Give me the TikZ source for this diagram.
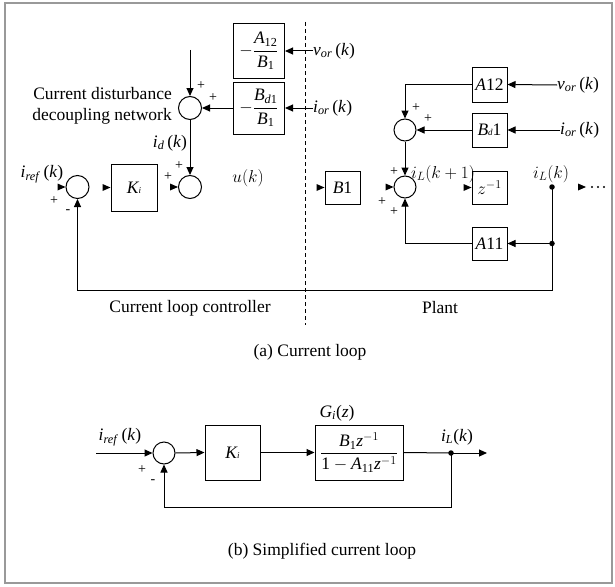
\documentclass[tikz,border=0pt]{standalone}
\usepackage{amsmath}
\usepackage{fontspec}
\setmainfont{Liberation Serif}
\usetikzlibrary{arrows.meta,calc}
\newcommand\myit[1]{\text{\itshape #1}}
\newcommand\mysub[1]{\textsubscript{#1}}
\begin{document}
\begin{tikzpicture}[x=1pt,y=-1pt,
  every node/.style={font=\fontsize{17.5}{21}\selectfont, inner sep=0pt},
  conn/.style={line width=1pt},
  arr/.style={line width=1pt,-{Triangle[length=8pt,width=7pt]}},
  blk/.style={draw, line width=1pt, fill=white},
  sumc/.style={circle, draw, line width=1pt, minimum size=23pt, inner sep=0pt},
  dot/.style={circle, fill, minimum size=5.5pt, inner sep=0pt},
  sgn/.style={font=\fontsize{14}{16}\selectfont},
  rtip/.pic={\fill (0,0) -- (-8,-3.5) -- (-8,3.5) -- cycle;}
]
\useasboundingbox (0,0) rectangle (615,586);
\draw[line width=2.5pt, black!40] (5,3) rectangle (612,583);

% ---------- (a) controller ----------
\coordinate (dtop) at (305,22);
\coordinate (dbot) at (305,325);
\draw[line width=1pt, dash pattern=on 4pt off 3pt] (dtop) -- (dbot);

\node[blk, minimum width=51pt, minimum height=54pt] (NA) at (259,51)
  {$-\dfrac{\myit{A}_{\text{12}}}{\myit{B}_{\text{1}}}$};
\node[blk, minimum width=51pt, minimum height=52pt] (NB) at (259,108)
  {$-\dfrac{\myit{B}_{\myit{d}\text{1}}}{\myit{B}_{\text{1}}}$};
\node[anchor=west] (vorL) at (313,51) {\textit{v}\mysub{\textit{or}}\,(\textit{k})};
\node[anchor=west] (iorL) at (313,108) {\textit{i}\mysub{\textit{or}}\,(\textit{k})};
\draw[arr] (vorL.west) -- (NA.east);
\draw[arr] (iorL.west) -- (NB.east);

\node[sumc] (S1) at (190,108) {};
\node[sumc] (S2) at (190,187) {};
\node[sumc] (S3) at (77.5,187) {};
\coordinate (S1in) at (190,50);
\draw[arr] (S1in) -- (S1.north);
\draw[arr] (NB.west) -- (S1.east);
\draw[arr] (S1.south) -- (S2.north);
\node[anchor=east, align=right] (cdd) at (172,106) {Current disturbance\\[0pt]decoupling network};
\node (idL) at (170,143) {\textit{i}\mysub{\textit{d}}\,(\textit{k})};
\node[sgn] (p1) at (201,86) {+};
\node[sgn] (p2) at (213,98) {+};
\node[sgn] (p3) at (179,166) {+};
\node[sgn] (p4) at (168,177) {+};
\node[sgn] (p5) at (54,201) {+};
\node[sgn] (m1) at (68,212) {-};

\node[blk, minimum width=46pt, minimum height=47pt] (Ki) at (134,187.5) {\textit{K{\small i}}};
\node (irefL) at (42,174) {\textit{i}\mysub{\textit{ref}}\,(\textit{k})};
\node (uL) at (248,178) {$u(k)$};
\pic at (S3.west) {rtip};
\pic at (Ki.west) {rtip};
\pic at (S2.west) {rtip};

% ---------- (a) plant ----------
\node[blk, minimum width=35pt, minimum height=33pt] (B1) at (342.5,187.5) {\textit{B}1};
\node[sumc, minimum size=22pt] (P1) at (405,130) {};
\node[sumc, minimum size=22pt] (P2) at (405,187) {};
\node[blk, minimum width=35pt, minimum height=35pt] (A12) at (489.5,84.5) {\textit{A}12};
\node[blk, minimum width=35pt, minimum height=34pt] (Bd1) at (489.5,130) {\textit{B{\small d}}1};
\node[blk, minimum width=35pt, minimum height=33pt] (Z) at (489.5,187.5) {$z^{-1}$};
\node[blk, minimum width=35pt, minimum height=33pt] (A11) at (489.5,243.5) {\textit{A}11};
\node[anchor=west] (vorR) at (557,85) {\textit{v}\mysub{\textit{or}}\,(\textit{k})};
\node[anchor=west] (iorR) at (560,130) {\textit{i}\mysub{\textit{or}}\,(\textit{k})};
\draw[arr] (vorR.west) -- (A12.east);
\draw[arr] (iorR.west) -- (Bd1.east);
\draw[arr] (A12.west) -| (P1.north);
\draw[arr] (Bd1.west) -- (P1.east);
\draw[arr] (P1.south) -- (P2.north);
\node (iLk1) at (443,174) {$i_L(k+1)$};
\pic at (P2.west) {rtip};
\pic at (B1.west) {rtip};
\pic at (Z.west) {rtip};
\node[sgn] (p6) at (416,108) {+};
\node[sgn] (p7) at (428,119) {+};
\node[sgn] (p8) at (394,172) {+};
\node[sgn] (p9) at (382,202) {+};
\node[sgn] (p10) at (394,212) {+};

\node[dot] (D1) at (552,187) {};
\node[dot] (D2) at (552,243.5) {};
\node (iLk) at (551,174) {$i_L(k)$};
\draw[conn] (D1.center) -- (D2.center);
\draw[arr] (D2.center) -- (A11.east);
\draw[arr] (A11.west) -| (P2.south);
\coordinate (fbR) at (552,290);
\draw[arr] (D2.center) -- (fbR) -| (S3.south);
\coordinate (rt) at (586,187);
\pic at (rt) {rtip};
\fill (592,187) circle (1.2);
\fill (598,187) circle (1.2);
\fill (604,187) circle (1.2);

\node (capCtrl) at (190,308) {Current loop controller};
\node (capPlant) at (440,308) {Plant};
\node (capA) at (310,352) {(a) Current loop};

% ---------- (b) ----------
\node[sumc, minimum size=22pt] (C) at (164,453) {};
\node[blk, minimum width=55pt, minimum height=55pt] (K2) at (232.5,452.5) {\textit{K{\small i}}};
\node[blk, minimum width=88pt, minimum height=55pt] (G) at (359,452.5)
  {$\dfrac{\myit{B}_{\text{1}}\myit{z}^{-1}}{\text{1}-\myit{A}_{\text{11}}\myit{z}^{-1}}$};
\node (GiL) at (337,413) {\textit{G}\mysub{\textit{i}}(\textit{z})};
\coordinate (bin) at (96,453);
\node (irefB) at (120,437) {\textit{i}\mysub{\textit{ref}}\,(\textit{k})};
\draw[arr] (bin) -- (C.west);
\draw[arr] (C.east) -- (K2.west);
\draw[arr] (K2.east) -- (G.west);
\node[dot] (D3) at (451,453) {};
\draw[conn] (G.east) -- (D3.center);
\coordinate (bout) at (487,453);
\draw[arr] (D3.center) -- (bout);
\coordinate (fbB) at (451,507);
\draw[arr] (D3.center) -- (fbB) -| (C.south);
\node (iLB) at (457,437) {\textit{i}\mysub{\textit{L}}(\textit{k})};
\node[sgn] (p11) at (142,470) {+};
\node[sgn] (m2) at (153,482) {-};
\node (capB) at (322,551) {(b) Simplified current loop};
\end{tikzpicture}
\end{document}
